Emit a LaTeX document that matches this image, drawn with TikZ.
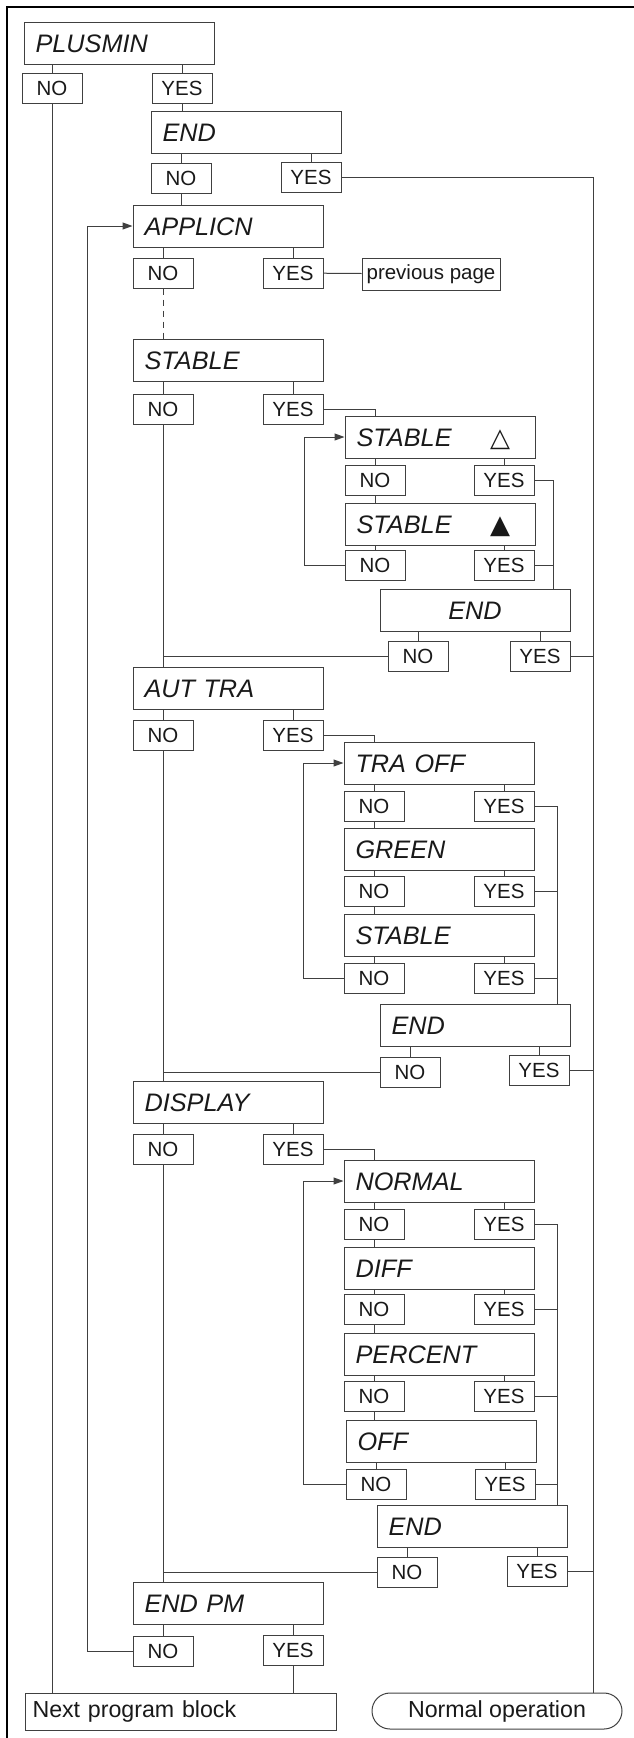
\documentclass[tikz,border=0pt]{standalone}
\usepackage{fontspec}
\setmainfont{Liberation Sans}
\newfontfamily\symfont{DejaVu Sans}
\usetikzlibrary{arrows.meta}

\begin{document}
\begin{tikzpicture}[x=1pt,y=-1pt,>={Triangle[length=10pt,width=7pt]},
  wire/.style={line width=1pt,draw=black!75},
  menubox/.style={draw=black!75,line width=1pt,anchor=north west,minimum height=42pt,
    text width=167pt,inner xsep=11.5pt,inner ysep=0pt,align=left,text height=19.5pt,text depth=0pt,
    font=\fontsize{25.3}{30}\selectfont\itshape,text=black!90},
  choice/.style={draw=black!75,line width=1pt,anchor=north west,minimum width=60pt,
    minimum height=30pt,inner sep=0pt,font=\fontsize{20.5}{24}\selectfont,text=black!90},
  exitbox/.style={draw=black!75,line width=1pt,anchor=north west,minimum height=37pt,
    inner sep=0pt,font=\fontsize{23.2}{28}\selectfont,text=black!90}]
\useasboundingbox (0,0) rectangle (634,1738);
\draw[line width=2pt] (634,6.7) -- (7.3,6.7) -- (7.3,1738);

\node[menubox] (plusmin) at (23.5,21.5) {PLUSMIN};
\node[choice] (pmNo) at (21.5,72.5) {NO};
\node[choice] (pmYes) at (151.5,72.5) {YES};
\node[menubox] (endA) at (150.5,110.5) {END};
\node[choice] (endANo) at (150.5,162.5) {NO};
\node[choice] (endAYes) at (280.5,161.5) {YES};
\node[menubox] (applicn) at (132.5,204.5) {APPLICN};
\node[choice] (apNo) at (132.5,257.5) {NO};
\node[choice] (apYes) at (262.5,257.5) {YES};
\node[choice,minimum width=138pt,minimum height=32pt] (prev) at (361.5,257.5) {previous page};

\node[menubox] (stable) at (132.5,338.5) {STABLE};
\node[choice] (stNo) at (132.5,393.5) {NO};
\node[choice] (stYes) at (262.5,393.5) {YES};
\node[menubox] (stUp) at (344.5,415.5) {STABLE\hfill{\symfont\upshape\fontsize{26}{28}\selectfont △}\hspace*{13.5pt}};
\node[choice] (suNo) at (344.5,464.5) {NO};
\node[choice] (suYes) at (473.5,464.5) {YES};
\node[menubox] (stDown) at (344.5,502.5) {STABLE\hfill{\symfont\upshape\fontsize{26}{28}\selectfont ▲}\hspace*{13.5pt}};
\node[choice] (sdNo) at (344.5,549.5) {NO};
\node[choice] (sdYes) at (473.5,549.5) {YES};
\node[menubox,align=center] (endB) at (379.5,588.5) {END};
\node[choice] (ebNo) at (387.5,640.5) {NO};
\node[choice] (ebYes) at (509.5,640.5) {YES};

\node[menubox] (autTra) at (132.5,666.5) {AUT TRA};
\node[choice] (atNo) at (132.5,719.5) {NO};
\node[choice] (atYes) at (262.5,719.5) {YES};
\node[menubox] (traOff) at (343.5,741.5) {TRA OFF};
\node[choice] (toNo) at (343.5,790.5) {NO};
\node[choice] (toYes) at (473.5,790.5) {YES};
\node[menubox] (green) at (343.5,827.5) {GREEN};
\node[choice] (grNo) at (343.5,875.5) {NO};
\node[choice] (grYes) at (473.5,875.5) {YES};
\node[menubox] (stableB) at (343.5,913.5) {STABLE};
\node[choice] (sbNo) at (343.5,962.5) {NO};
\node[choice] (sbYes) at (473.5,962.5) {YES};
\node[menubox] (endC) at (379.5,1003.5) {END};
\node[choice] (ecNo) at (379.5,1056.5) {NO};
\node[choice] (ecYes) at (508.5,1054.5) {YES};

\node[menubox] (display) at (132.5,1080.5) {DISPLAY};
\node[choice] (diNo) at (132.5,1133.5) {NO};
\node[choice] (diYes) at (262.5,1133.5) {YES};
\node[menubox] (normalD) at (343.5,1159.5) {NORMAL};
\node[choice] (nmNo) at (343.5,1208.5) {NO};
\node[choice] (nmYes) at (473.5,1208.5) {YES};
\node[menubox] (diff) at (343.5,1246.5) {DIFF};
\node[choice] (dfNo) at (343.5,1293.5) {NO};
\node[choice] (dfYes) at (473.5,1293.5) {YES};
\node[menubox] (percent) at (343.5,1332.5) {PERCENT};
\node[choice] (pcNo) at (343.5,1380.5) {NO};
\node[choice] (pcYes) at (473.5,1380.5) {YES};
\node[menubox] (off) at (345.5,1419.5) {OFF};
\node[choice] (ofNo) at (345.5,1468.5) {NO};
\node[choice] (ofYes) at (474.5,1468.5) {YES};
\node[menubox] (endD) at (376.5,1504.5) {END};
\node[choice] (edNo) at (376.5,1556.5) {NO};
\node[choice] (edYes) at (506.5,1555.5) {YES};

\node[menubox] (endPm) at (132.5,1581.5) {END PM};
\node[choice] (epNo) at (132.5,1635.5) {NO};
\node[choice] (epYes) at (262.5,1634.5) {YES};

\node[exitbox,text width=296pt,inner xsep=7.5pt,align=left] (next) at (24.5,1692.5) {Next program block};
\node[exitbox,minimum width=250pt,minimum height=36pt,rounded corners=18pt] (normal) at (371.5,1692.5) {Normal operation};

\draw[wire] (pmNo) -- (pmNo |- plusmin.south);
\draw[wire] (pmYes) -- (pmYes |- plusmin.south);
\draw[wire] (pmYes) -- (pmYes |- endA.north);
\draw[wire] (pmNo) -- (pmNo |- next.north);
\draw[wire] (endANo) -- (endANo |- endA.south);
\draw[wire] (endAYes) -- (endAYes |- endA.south);
\draw[wire] (endANo) -- (endANo |- applicn.north);
\draw[wire] (endAYes.east) -- ++(252,0) coordinate (rc) -- (rc |- normal.north);
\draw[wire] (apNo) -- (apNo |- applicn.south);
\draw[wire] (apYes) -- (apYes |- applicn.south);
\draw[wire] (apYes) -- (prev);
\draw[wire,dash pattern=on 6pt off 5pt] (apNo) -- (apNo |- stable.north);

\draw[wire] (stNo) -- (stNo |- stable.south);
\draw[wire] (stYes) -- (stYes |- stable.south);
\draw[wire] (stYes.east) -| (suNo |- stUp.north);
\draw[wire] (suNo) -- (suNo |- stUp.south);
\draw[wire] (suYes) -- (suYes |- stUp.south);
\draw[wire] (suNo) -- (suNo |- stDown.north);
\draw[wire] (sdNo) -- (sdNo |- stDown.south);
\draw[wire] (sdYes) -- (sdYes |- stDown.south);
\draw[wire,->] (sdNo.west) -- ++(-40,0) |- (stUp.west);
\draw[wire] (suYes.east) -- ++(19,0) coordinate (jB) -- (jB |- endB.north);
\draw[wire] (sdYes.east) -- (sdYes.east -| jB);
\draw[wire] (ebNo) -- (ebNo |- endB.south);
\draw[wire] (ebYes) -- (ebYes |- endB.south);
\draw[wire] (ebNo.west) -- (ebNo.west -| stNo);
\draw[wire] (ebYes.east) -- (ebYes.east -| rc);
\draw[wire] (stNo) -- (stNo |- autTra.north);

\draw[wire] (atNo) -- (atNo |- autTra.south);
\draw[wire] (atYes) -- (atYes |- autTra.south);
\draw[wire] (atYes.east) -| (toNo |- traOff.north);
\draw[wire] (toNo) -- (toNo |- traOff.south);
\draw[wire] (toYes) -- (toYes |- traOff.south);
\draw[wire] (toNo) -- (toNo |- green.north);
\draw[wire] (grNo) -- (grNo |- green.south);
\draw[wire] (grYes) -- (grYes |- green.south);
\draw[wire] (grNo) -- (grNo |- stableB.north);
\draw[wire] (sbNo) -- (sbNo |- stableB.south);
\draw[wire] (sbYes) -- (sbYes |- stableB.south);
\draw[wire,->] (sbNo.west) -- ++(-40,0) |- (traOff.west);
\draw[wire] (toYes.east) -- ++(23,0) coordinate (jC) -- (jC |- endC.north);
\draw[wire] (grYes.east) -- (grYes.east -| jC);
\draw[wire] (sbYes.east) -- (sbYes.east -| jC);
\draw[wire] (ecNo) -- (ecNo |- endC.south);
\draw[wire] (ecYes) -- (ecYes |- endC.south);
\draw[wire] (ecNo.west) -- (ecNo.west -| atNo);
\draw[wire] (ecYes.east) -- (ecYes.east -| rc);
\draw[wire] (atNo) -- (atNo |- display.north);

\draw[wire] (diNo) -- (diNo |- display.south);
\draw[wire] (diYes) -- (diYes |- display.south);
\draw[wire] (diYes.east) -| (nmNo |- normalD.north);
\draw[wire] (nmNo) -- (nmNo |- normalD.south);
\draw[wire] (nmYes) -- (nmYes |- normalD.south);
\draw[wire] (nmNo) -- (nmNo |- diff.north);
\draw[wire] (dfNo) -- (dfNo |- diff.south);
\draw[wire] (dfYes) -- (dfYes |- diff.south);
\draw[wire] (dfNo) -- (dfNo |- percent.north);
\draw[wire] (pcNo) -- (pcNo |- percent.south);
\draw[wire] (pcYes) -- (pcYes |- percent.south);
\draw[wire] (pcNo) -- (pcNo |- off.north);
\draw[wire] (ofNo) -- (ofNo |- off.south);
\draw[wire] (ofYes) -- (ofYes |- off.south);
\draw[wire,->] (ofNo.west) -- ++(-42,0) |- (normalD.west);
\draw[wire] (nmYes.east) -- ++(23,0) coordinate (jD) -- (jD |- endD.north);
\draw[wire] (dfYes.east) -- (dfYes.east -| jD);
\draw[wire] (pcYes.east) -- (pcYes.east -| jD);
\draw[wire] (ofYes.east) -- (ofYes.east -| jD);
\draw[wire] (edNo) -- (edNo |- endD.south);
\draw[wire] (edYes) -- (edYes |- endD.south);
\draw[wire] (edNo.west) -- (edNo.west -| diNo);
\draw[wire] (edYes.east) -- (edYes.east -| rc);
\draw[wire] (diNo) -- (diNo |- endPm.north);

\draw[wire] (epNo) -- (epNo |- endPm.south);
\draw[wire] (epYes) -- (epYes |- endPm.south);
\draw[wire,->] (epNo.west) -- ++(-45,0) |- (applicn.west);
\draw[wire] (epYes) -- (epYes |- next.north);
\end{tikzpicture}
\end{document}
